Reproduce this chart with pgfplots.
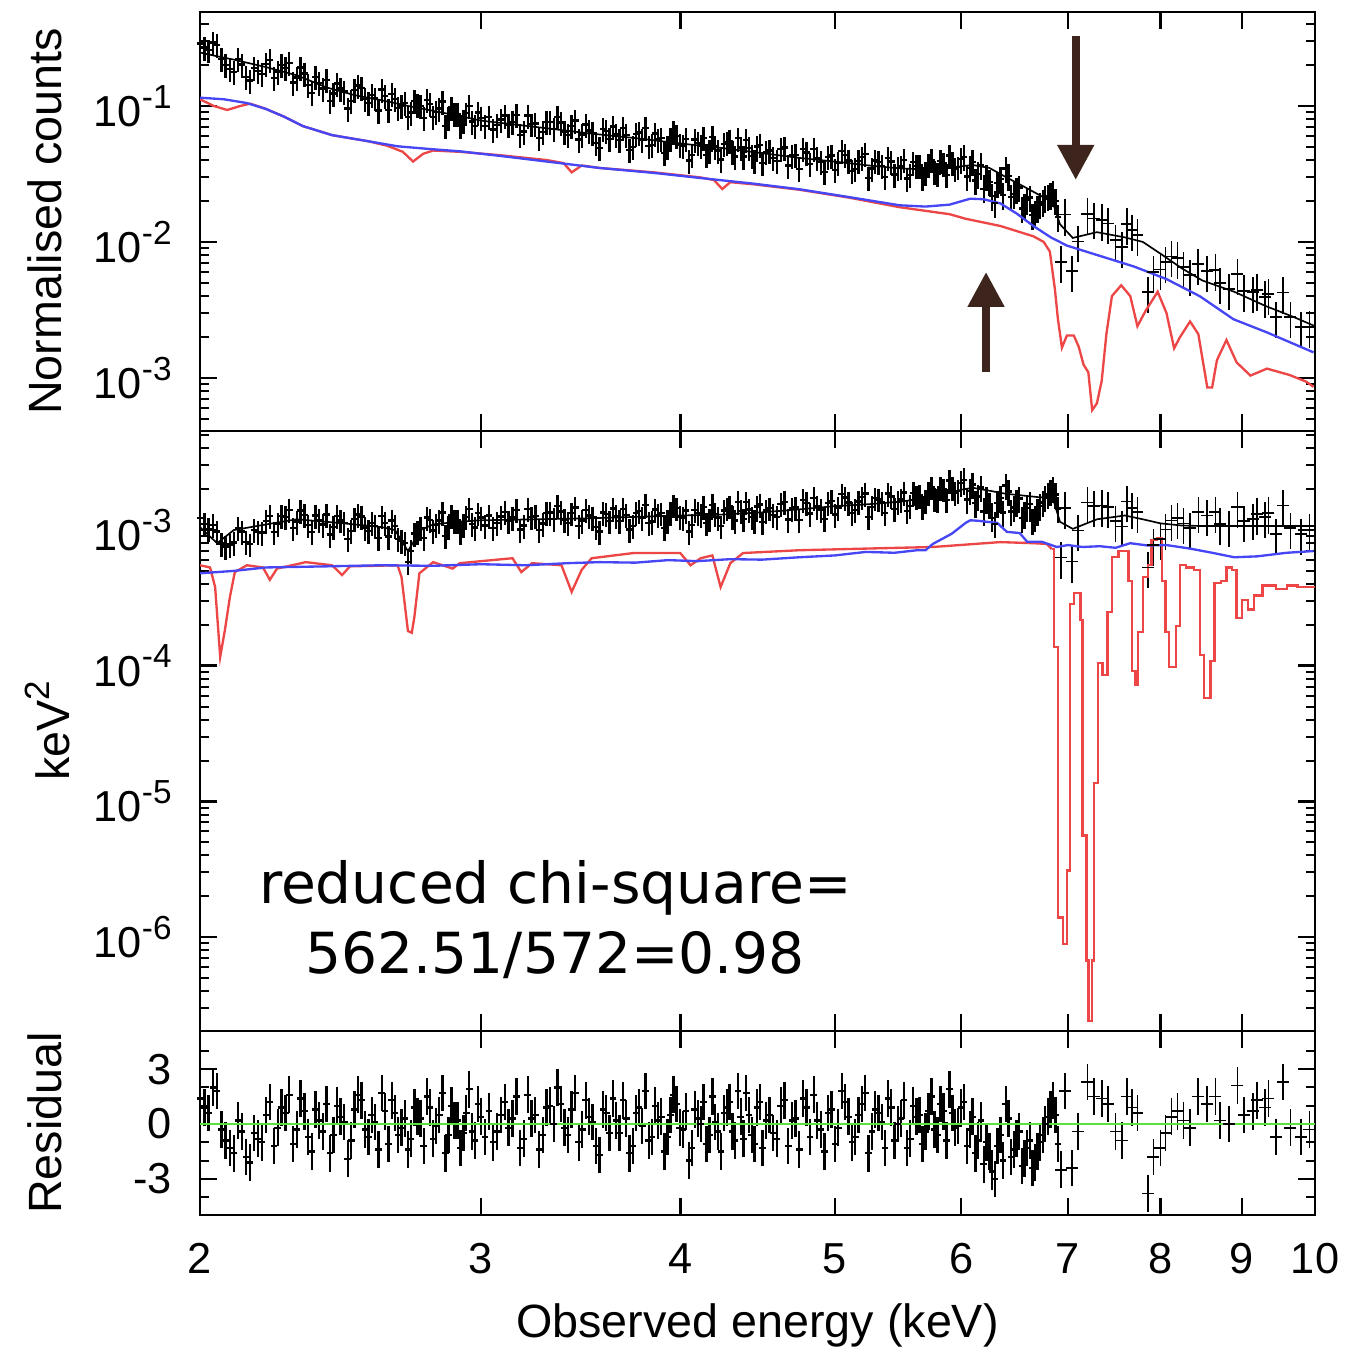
\documentclass[border=0pt]{standalone}
\usepackage{fontspec}
\setmainfont{Liberation Sans}
\newfontfamily\annofont{DejaVu Sans}
\usepackage{pgfplots}
\pgfplotsset{compat=1.18}
\usepackage{pgfplotstable}
\usetikzlibrary{arrows.meta}
\definecolor{mred}{RGB}{236,70,70}
\definecolor{mblue}{RGB}{70,70,245}
\definecolor{mgreen}{RGB}{90,225,60}
\definecolor{abrown}{RGB}{61,36,28}
\newcommand{\sps}[1]{\raisebox{5.5pt}{\fontsize{10}{12}\selectfont #1}}

% dense data: E, normalised counts, unfolded (keV^2), relative error, residual
\pgfplotstableread{
E c u s r
2.000 0.2885 1.226e-3 0.20 1.4
2.025 0.2567 1.018e-3 0.20 0.6
2.050 0.2821 0.973e-3 0.20 1.8
2.075 0.2011 0.758e-3 0.20 -0.9
2.100 0.1770 0.808e-3 0.20 -1.6
2.125 0.2023 0.976e-3 0.20 -0.4
2.150 0.1541 0.785e-3 0.20 -2.1
2.175 0.1803 0.972e-3 0.20 -0.8
2.200 0.2046 1.166e-3 0.20 0.5
2.225 0.1599 0.963e-3 0.20 -1.2
2.250 0.2000 1.274e-3 0.20 0.9
2.275 0.2077 1.401e-3 0.20 1.6
2.300 0.1620 1.157e-3 0.20 -0.3
2.325 0.1737 1.290e-3 0.20 0.7
2.350 0.1251 0.964e-3 0.20 -1.5
2.375 0.1482 1.188e-3 0.20 0.2
2.400 0.1551 1.302e-3 0.20 1.1
2.425 0.1232 1.058e-3 0.20 -0.6
2.450 0.1347 1.179e-3 0.20 0.4
2.475 0.0959 0.857e-3 0.20 -1.9
2.500 0.1315 1.206e-3 0.20 0.8
2.525 0.1358 1.260e-3 0.20 1.3
2.550 0.1053 0.985e-3 0.20 -0.7
2.575 0.1139 1.073e-3 0.20 0.1
2.600 0.1324 1.264e-3 0.20 1.7
2.625 0.0933 0.894e-3 0.20 -1.1
2.650 0.1126 1.072e-3 0.20 0.6
2.675 0.1000 0.830e-3 0.20 -0.2
2.700 0.0832 0.582e-3 0.20 -1.4
2.725 0.1086 0.942e-3 0.20 0.9
2.750 0.0995 1.036e-3 0.20 0.3
2.775 0.1109 1.239e-3 0.20 1.5
2.800 0.0832 0.994e-3 0.20 -0.8
2.825 0.0957 1.177e-3 0.20 0.5
2.850 0.0715 0.909e-3 0.20 -1.6
2.875 0.0972 1.277e-3 0.20 1.0
2.900 0.0870 1.178e-3 0.20 0.2
2.925 0.0783 1.090e-3 0.20 -0.5
2.950 0.1001 1.431e-3 0.20 1.9
2.975 0.0712 1.044e-3 0.20 -0.9
3.000 0.0817 1.237e-3 0.20 0.4
3.035 0.0834 1.279e-3 0.20 0.7
3.070 0.0722 1.129e-3 0.20 -0.4
3.105 0.0853 1.359e-3 0.20 1.2
3.140 0.0761 1.234e-3 0.20 0.3
3.175 0.0611 1.008e-3 0.20 -1.3
3.210 0.0850 1.427e-3 0.20 1.6
3.245 0.0744 1.272e-3 0.20 0.5
3.280 0.0642 1.115e-3 0.20 -0.6
3.315 0.0764 1.350e-3 0.20 1.0
3.350 0.0833 1.498e-3 0.20 2.0
3.385 0.0646 1.182e-3 0.20 -0.2
3.420 0.0715 1.330e-3 0.20 0.8
3.455 0.0566 1.070e-3 0.20 -1.0
3.490 0.0732 1.409e-3 0.20 1.3
3.525 0.0633 1.238e-3 0.20 0.1
3.560 0.0492 0.977e-3 0.20 -1.7
3.595 0.0655 1.320e-3 0.20 0.6
3.630 0.0705 1.444e-3 0.20 1.4
3.665 0.0561 1.166e-3 0.20 -0.5
3.700 0.0611 1.289e-3 0.20 0.3
3.735 0.0499 1.068e-3 0.20 -1.2
3.770 0.0638 1.387e-3 0.20 0.9
3.805 0.0692 1.528e-3 0.20 1.8
3.840 0.0515 1.155e-3 0.20 -0.7
3.875 0.0568 1.295e-3 0.20 0.2
3.910 0.0449 1.041e-3 0.20 -1.5
3.945 0.0573 1.350e-3 0.20 0.5
3.980 0.0604 1.446e-3 0.20 1.1
4.015 0.0509 1.235e-3 0.20 -0.3
4.050 0.0397 0.976e-3 0.20 -2.0
4.085 0.0566 1.410e-3 0.20 0.8
4.120 0.0511 1.290e-3 0.20 0.0
4.155 0.0438 1.122e-3 0.20 -1.1
4.190 0.0590 1.528e-3 0.20 1.5
4.225 0.0470 1.236e-3 0.20 -0.4
4.260 0.0523 1.396e-3 0.20 0.6
4.295 0.0553 1.497e-3 0.20 1.2
4.330 0.0425 1.174e-3 0.20 -0.9
4.365 0.0495 1.386e-3 0.20 0.4
4.400 0.0561 1.601e-3 0.20 1.7
4.435 0.0427 1.241e-3 0.20 -0.6
4.470 0.0504 1.489e-3 0.20 0.9
4.505 0.0379 1.140e-3 0.20 -1.3
4.55 0.0470 1.446e-3 0.20 0.5
4.60 0.0394 1.246e-3 0.20 -0.8
4.65 0.0496 1.609e-3 0.20 1.3
4.70 0.0432 1.440e-3 0.20 0.2
4.75 0.0345 1.181e-3 0.20 -1.4
4.80 0.0454 1.591e-3 0.20 0.9
4.85 0.0483 1.731e-3 0.20 1.6
4.90 0.0386 1.415e-3 0.20 -0.3
4.95 0.0423 1.591e-3 0.20 0.6
5.00 0.0339 1.302e-3 0.20 -1.1
5.05 0.0468 1.836e-3 0.20 1.8
5.10 0.0398 1.593e-3 0.20 0.4
5.15 0.0344 1.401e-3 0.20 -0.7
5.20 0.0419 1.743e-3 0.20 1.1
5.25 0.0295 1.252e-3 0.20 -1.6
5.30 0.0396 1.714e-3 0.20 0.8
5.35 0.0362 1.597e-3 0.20 0.1
5.40 0.0413 1.859e-3 0.20 1.4
5.45 0.0313 1.433e-3 0.20 -0.9
5.50 0.0359 1.678e-3 0.20 0.3
5.55 0.0292 1.389e-3 0.20 -1.3
5.60 0.0385 1.873e-3 0.20 1.0
5.65 0.0364 1.800e-3 0.20 0.5
5.70 0.0325 1.641e-3 0.20 -0.4
5.75 0.0401 2.065e-3 0.20 1.5
5.80 0.0319 1.667e-3 0.20 -0.6
5.85 0.0377 1.997e-3 0.20 0.7
5.90 0.0432 2.318e-3 0.20 1.9
5.95 0.0347 1.888e-3 0.20 -0.2
6.00 0.0405 2.229e-3 0.22 0.9
6.05 0.0303 1.676e-3 0.22 -1.2
6.10 0.0389 2.165e-3 0.22 0.4
6.15 0.0316 1.763e-3 0.22 -0.9
6.20 0.0246 1.372e-3 0.22 -2.2
6.25 0.0277 1.541e-3 0.22 -1.5
6.30 0.0193 1.112e-3 0.22 -3.0
6.35 0.0290 1.725e-3 0.22 -0.6
6.40 0.0346 2.135e-3 0.22 1.1
6.45 0.0215 1.371e-3 0.22 -1.8
6.50 0.0242 1.613e-3 0.22 -0.8
6.55 0.0176 1.220e-3 0.22 -2.3
6.60 0.0203 1.459e-3 0.22 -1.3
6.65 0.0157 1.173e-3 0.22 -2.4
6.70 0.0178 1.383e-3 0.22 -1.5
6.75 0.0197 1.594e-3 0.22 -0.6
6.80 0.0216 1.827e-3 0.22 0.4
6.85 0.0230 2.033e-3 0.22 1.3
6.90 0.0152 1.438e-3 0.22 -1.1
}\dataA

% interleaved dense bins
\pgfplotstableread{
E c u s r
2.0125 0.2696 1.108e-3 0.20 0.9
2.0375 0.2924 1.085e-3 0.20 2.0
2.0625 0.2205 0.795e-3 0.20 -0.3
2.0875 0.1876 0.781e-3 0.20 -1.3
2.1125 0.2210 1.037e-3 0.20 0.2
2.1375 0.1641 0.814e-3 0.20 -1.8
2.1625 0.1906 0.999e-3 0.20 -0.5
2.1875 0.1727 0.957e-3 0.20 -1.0
2.2125 0.2172 1.273e-3 0.20 1.2
2.2375 0.1793 1.111e-3 0.20 -0.2
2.2625 0.1902 1.247e-3 0.20 0.6
2.2875 0.1486 1.031e-3 0.20 -1.1
2.3125 0.1918 1.396e-3 0.20 1.4
2.3375 0.1433 1.084e-3 0.20 -0.7
2.3625 0.1630 1.280e-3 0.20 0.8
2.3875 0.1341 1.100e-3 0.20 -0.4
2.4125 0.1090 0.925e-3 0.20 -1.6
2.4375 0.1464 1.269e-3 0.20 1.0
2.4625 0.1279 1.131e-3 0.20 0.1
2.4875 0.1090 0.986e-3 0.20 -0.9
2.5125 0.1416 1.305e-3 0.20 1.6
2.5375 0.1121 1.044e-3 0.20 -0.3
2.5625 0.1206 1.132e-3 0.20 0.5
2.5875 0.0926 0.878e-3 0.20 -1.4
2.6125 0.1179 1.127e-3 0.20 0.7
2.6375 0.1229 1.173e-3 0.20 1.3
2.6625 0.0963 0.858e-3 0.20 -0.6
2.6875 0.1049 0.803e-3 0.20 0.3
2.7125 0.0895 0.701e-3 0.20 -0.8
2.7375 0.1017 0.969e-3 0.20 0.4
2.7625 0.0813 0.877e-3 0.20 -1.2
2.7875 0.1030 1.191e-3 0.20 0.9
2.8125 0.0901 1.092e-3 0.20 -0.1
2.8375 0.1076 1.346e-3 0.20 1.7
2.8625 0.0814 1.051e-3 0.20 -0.6
2.8875 0.0880 1.172e-3 0.20 0.2
2.9125 0.0711 0.975e-3 0.20 -1.3
2.9375 0.0883 1.247e-3 0.20 0.6
2.9625 0.0768 1.112e-3 0.20 -0.4
2.9875 0.0893 1.330e-3 0.20 1.1
3.0175 0.0710 1.081e-3 0.20 -0.7
3.0525 0.0672 1.041e-3 0.20 -1.0
3.0875 0.0797 1.258e-3 0.20 0.5
3.1225 0.0723 1.161e-3 0.20 -0.2
3.1575 0.0861 1.408e-3 0.20 1.5
3.1925 0.0650 1.081e-3 0.20 -0.8
3.2275 0.0733 1.242e-3 0.20 0.3
3.2625 0.0580 0.999e-3 0.20 -1.4
3.2975 0.0761 1.334e-3 0.20 0.9
3.3325 0.0677 1.207e-3 0.20 0.0
3.3675 0.0755 1.370e-3 0.20 1.1
3.4025 0.0610 1.126e-3 0.20 -0.6
3.4375 0.0780 1.463e-3 0.20 1.7
3.4725 0.0615 1.174e-3 0.20 -0.3
3.5075 0.0659 1.280e-3 0.20 0.4
3.5425 0.0532 1.049e-3 0.20 -1.2
3.5775 0.0674 1.347e-3 0.20 0.8
3.6125 0.0571 1.160e-3 0.20 -0.5
3.6475 0.0615 1.268e-3 0.20 0.2
3.6825 0.0687 1.436e-3 0.20 1.3
3.7175 0.0474 1.007e-3 0.20 -1.6
3.7525 0.0622 1.340e-3 0.20 0.6
3.7875 0.0566 1.240e-3 0.20 -0.1
3.8225 0.0505 1.123e-3 0.20 -0.9
3.8575 0.0626 1.415e-3 0.20 1.0
3.8925 0.0578 1.328e-3 0.20 0.4
3.9275 0.0499 1.164e-3 0.20 -0.7
3.9625 0.0641 1.521e-3 0.20 1.6
3.9975 0.0518 1.249e-3 0.20 -0.2
4.0325 0.0569 1.391e-3 0.20 0.7
4.0675 0.0438 1.085e-3 0.20 -1.3
4.1025 0.0532 1.335e-3 0.20 0.3
4.1375 0.0581 1.477e-3 0.20 1.2
4.1725 0.0467 1.201e-3 0.20 -0.6
4.2075 0.0503 1.313e-3 0.20 0.1
4.2425 0.0403 1.066e-3 0.20 -1.5
4.2775 0.0538 1.447e-3 0.20 0.9
4.3125 0.0457 1.250e-3 0.20 -0.4
4.3475 0.0578 1.605e-3 0.20 1.8
4.3825 0.0424 1.200e-3 0.20 -0.8
4.4175 0.0491 1.414e-3 0.20 0.5
4.4525 0.0398 1.164e-3 0.20 -1.1
4.4875 0.0517 1.542e-3 0.20 1.2
4.5275 0.0457 1.390e-3 0.20 0.2
4.575 0.0414 1.289e-3 0.20 -0.5
4.625 0.0485 1.551e-3 0.20 1.0
4.675 0.0365 1.198e-3 0.20 -1.2
4.725 0.0434 1.464e-3 0.20 0.3
4.775 0.0482 1.668e-3 0.20 1.4
4.825 0.0374 1.323e-3 0.20 -0.7
4.875 0.0413 1.495e-3 0.20 0.2
4.925 0.0326 1.210e-3 0.20 -1.5
4.975 0.0431 1.635e-3 0.20 0.8
5.025 0.0379 1.469e-3 0.20 -0.2
5.075 0.0438 1.733e-3 0.20 1.2
5.125 0.0333 1.342e-3 0.20 -1.0
5.175 0.0395 1.627e-3 0.20 0.5
5.225 0.0443 1.860e-3 0.20 1.7
5.275 0.0346 1.482e-3 0.20 -0.4
5.325 0.0386 1.684e-3 0.20 0.6
5.375 0.0300 1.338e-3 0.20 -1.3
5.425 0.0391 1.772e-3 0.20 0.9
5.475 0.0349 1.613e-3 0.20 0.0
5.525 0.0401 1.888e-3 0.20 1.3
5.575 0.0312 1.500e-3 0.20 -0.8
5.625 0.0361 1.766e-3 0.20 0.4
5.675 0.0297 1.485e-3 0.20 -1.1
5.725 0.0370 1.883e-3 0.20 0.7
5.775 0.0330 1.709e-3 0.20 -0.3
5.825 0.0392 2.059e-3 0.20 1.1
5.875 0.0312 1.664e-3 0.20 -0.9
5.925 0.0379 2.049e-3 0.20 0.6
5.975 0.0354 1.934e-3 0.20 -0.1
6.025 0.0423 2.334e-3 0.22 1.2
6.075 0.0351 1.948e-3 0.22 -0.3
6.125 0.0283 1.578e-3 0.22 -1.6
6.175 0.0369 2.056e-3 0.22 0.2
6.225 0.0304 1.692e-3 0.22 -1.0
6.275 0.0218 1.230e-3 0.22 -2.6
6.325 0.0270 1.581e-3 0.22 -1.2
6.375 0.0222 1.344e-3 0.22 -2.0
6.425 0.0306 1.919e-3 0.22 0.3
6.475 0.0225 1.467e-3 0.22 -1.4
6.525 0.0252 1.708e-3 0.22 -0.4
6.575 0.0186 1.315e-3 0.22 -1.9
6.625 0.0212 1.551e-3 0.22 -0.9
6.675 0.0163 1.242e-3 0.22 -2.1
6.725 0.0189 1.501e-3 0.22 -1.0
6.775 0.0210 1.735e-3 0.22 0.0
6.825 0.0222 1.918e-3 0.22 0.8
6.875 0.0201 1.830e-3 0.22 0.5
}\dataC

% sparse high-energy data
\pgfplotstableread{
E c u s r
6.93 0.00715 0.627e-3 0.30 -2.5
6.97 0.0159 1.456e-3 0.30 1.8
7.04 0.00608 0.585e-3 0.30 -2.4
7.10 0.0101 0.993e-3 0.30 -0.4
7.20 0.0161 1.598e-3 0.30 2.3
7.27 0.0149 1.499e-3 0.30 1.5
7.35 0.0145 1.515e-3 0.30 1.4
7.42 0.0137 1.474e-3 0.30 1.1
7.50 0.0103 1.160e-3 0.30 -0.4
7.57 0.00913 1.064e-3 0.30 -0.9
7.62 0.0136 1.626e-3 0.30 1.5
7.68 0.0122 1.453e-3 0.30 0.9
7.74 0.0113 1.352e-3 0.30 0.6
7.86 0.00428 0.531e-3 0.30 -3.8
7.92 0.00602 0.777e-3 0.30 -1.8
8.00 0.00628 0.858e-3 0.30 -1.3
8.06 0.00710 1.010e-3 0.30 -0.5
8.13 0.00783 1.179e-3 0.30 0.4
8.20 0.00766 1.227e-3 0.30 0.7
8.27 0.00653 1.119e-3 0.30 0.2
8.35 0.00569 1.031e-3 0.30 -0.2
8.45 0.00686 1.359e-3 0.30 1.5
8.56 0.00611 1.282e-3 0.30 1.1
8.66 0.00622 1.359e-3 0.30 1.5
8.72 0.00497 1.109e-3 0.30 0.2
8.83 0.00450 1.070e-3 0.30 0.0
8.94 0.00579 1.474e-3 0.30 2.1
9.03 0.00436 1.166e-3 0.30 0.5
9.14 0.00428 1.205e-3 0.30 0.7
9.20 0.00444 1.320e-3 0.30 1.3
9.30 0.00395 1.243e-3 0.30 0.9
9.35 0.00413 1.340e-3 0.30 1.4
9.45 0.00280 0.935e-3 0.30 -0.7
9.55 0.00424 1.513e-3 0.30 2.3
9.65 0.00280 1.031e-3 0.30 -0.2
9.80 0.00236 0.935e-3 0.30 -0.7
9.92 0.00237 1.012e-3 0.30 -0.3
}\dataB

% black best-fit model
\pgfplotstableread{
E cm um
2.00 0.247 1.05e-3
2.05 0.232 0.80e-3
2.10 0.219 1.00e-3
2.20 0.193 1.10e-3
2.30 0.168 1.20e-3
2.40 0.137 1.15e-3
2.50 0.120 1.10e-3
2.60 0.110 1.05e-3
2.65 0.105 1.00e-3
2.70 0.100 0.70e-3
2.75 0.096 1.00e-3
2.80 0.092 1.10e-3
2.90 0.085 1.15e-3
3.00 0.078 1.18e-3
3.25 0.070 1.20e-3
3.50 0.063 1.22e-3
3.75 0.058 1.25e-3
4.00 0.053 1.28e-3
4.25 0.049 1.30e-3
4.50 0.045 1.35e-3
4.75 0.0415 1.42e-3
5.00 0.039 1.50e-3
5.25 0.0365 1.55e-3
5.50 0.0347 1.62e-3
5.75 0.0340 1.75e-3
6.00 0.0360 1.98e-3
6.10 0.0368 2.05e-3
6.25 0.0350 1.95e-3
6.40 0.0300 1.85e-3
6.55 0.0260 1.80e-3
6.70 0.0225 1.75e-3
6.85 0.0195 1.72e-3
6.92 0.0135 1.15e-3
7.05 0.0107 1.02e-3
7.30 0.0118 1.20e-3
7.60 0.0108 1.28e-3
7.80 0.0100 1.20e-3
8.00 0.0082 1.12e-3
8.25 0.0064 1.08e-3
8.50 0.0052 1.07e-3
8.90 0.0043 1.07e-3
9.30 0.0034 1.07e-3
9.70 0.0028 1.07e-3
10.0 0.0024 1.07e-3
}\modelK

\pgfplotsset{every axis/.append style={
    scale only axis, width=334.5pt,
    xmin=2, xmax=10,
    xtick={2,3,4,5,6,7,8,9,10},
    xminorticks=false,
    tick align=inside, tick pos=both,
    major tick length=5pt, minor tick length=2.6pt,
    major tick style={line width=0.8pt, black},
    minor tick style={line width=0.6pt, black},
    axis line style={line width=0.8pt},
    tick label style={font=\fontsize{13}{15}\selectfont},
    label style={font=\fontsize{14}{16}\selectfont},
    yticklabel style={xshift=-5pt},
}}

\begin{document}
\begin{tikzpicture}
\path[use as bounding box] (-60pt,3.6pt) rectangle (343.5pt,-402pt);

% ---------------- top panel ----------------
\begin{axis}[xmode=log, ymode=log, at={(0pt,0pt)}, anchor=north west, height=125.7pt,
  ymin=4.07e-4, ymax=0.491,
  ytick={1e-3,1e-2,1e-1},
  yticklabels={10\sps{-3},10\sps{-2},10\sps{-1}},
  minor ytick={5e-4,6e-4,7e-4,8e-4,9e-4,2e-3,3e-3,4e-3,5e-3,6e-3,7e-3,8e-3,9e-3,2e-2,3e-2,4e-2,5e-2,6e-2,7e-2,8e-2,9e-2,2e-1,3e-1,4e-1},
  xticklabels={,,,,,,,,},
  ylabel={Normalised counts},
  ylabel style={at={(axis description cs:-0.139,0.5)}, anchor=center},
]
\addplot[black, line width=0.7pt, only marks, mark=-, mark size=1.0pt,
  error bars/.cd, y dir=both, y explicit relative, error mark=none, error bar style={line width=0.7pt}]
  table[x=E, y=c, y error=s] {\dataA};
\addplot[black, line width=0.7pt, only marks, mark=-, mark size=1.0pt,
  error bars/.cd, y dir=both, y explicit relative, error mark=none, error bar style={line width=0.7pt}]
  table[x=E, y=c, y error=s] {\dataC};
\addplot[black, line width=0.5pt, only marks, mark=-, mark size=1.8pt,
  error bars/.cd, y dir=both, y explicit relative, error mark=none, error bar style={line width=0.5pt}]
  table[x=E, y=c, y error=s] {\dataB};
\addplot[black, line width=0.5pt] table[x=E, y=cm] {\modelK};
\addplot[mred, line width=0.7pt] coordinates {
(2.00,0.112)(2.04,0.100)(2.08,0.0934)(2.12,0.100)(2.15,0.104)(2.20,0.095)(2.26,0.083)
(2.32,0.0711)(2.42,0.061)(2.55,0.055)(2.62,0.051)(2.68,0.046)(2.72,0.039)(2.76,0.0445)
(2.80,0.047)(2.91,0.0460)(3.08,0.0435)(3.30,0.040)(3.38,0.038)(3.42,0.0325)(3.47,0.0365)
(3.56,0.0350)(3.85,0.0325)(4.12,0.0298)(4.20,0.0285)(4.25,0.0245)(4.30,0.0275)(4.45,0.0265)
(4.75,0.0242)(5.10,0.0212)(5.49,0.0180)(5.90,0.0160)(6.04,0.0148)(6.35,0.0131)(6.66,0.0110)
(6.76,0.0100)(6.82,0.0085)(6.87,0.0045)(6.90,0.0027)(6.94,0.00167)(6.99,0.00205)(7.06,0.00205)
(7.11,0.00170)(7.16,0.00125)(7.21,0.00110)(7.25,0.00058)(7.30,0.00065)(7.35,0.00095)(7.40,0.0021)
(7.46,0.0040)(7.56,0.0048)(7.66,0.0040)(7.74,0.0024)(7.83,0.0031)(7.97,0.0043)(8.07,0.0030)
(8.16,0.00165)(8.23,0.0020)(8.35,0.0026)(8.45,0.0021)(8.56,0.00085)(8.62,0.00085)(8.68,0.00135)
(8.80,0.0019)(8.93,0.0013)(9.11,0.00104)(9.33,0.00117)(9.64,0.00105)(9.87,0.00094)(9.98,0.00086)};
\addplot[mblue, line width=0.7pt] coordinates {
(2.00,0.115)(2.07,0.112)(2.14,0.105)(2.20,0.095)(2.26,0.083)(2.32,0.0711)(2.42,0.061)
(2.55,0.055)(2.66,0.0505)(2.80,0.048)(2.91,0.0464)(3.08,0.0430)(3.30,0.0390)(3.56,0.0350)
(3.85,0.0322)(4.12,0.0295)(4.45,0.0268)(4.75,0.0244)(5.10,0.0214)(5.49,0.0186)(5.70,0.0182)
(5.90,0.0188)(6.08,0.0208)(6.20,0.0206)(6.35,0.0192)(6.50,0.0162)(6.66,0.0131)(6.83,0.0108)
(6.99,0.0094)(7.33,0.0079)(7.70,0.0066)(8.07,0.00533)(8.47,0.00398)(8.89,0.00270)
(9.33,0.00216)(9.98,0.00154)};
\draw[abrown, line width=2.4pt, -{Triangle[width=10.5pt,length=10.5pt]}]
  (axis cs:7.08,0.327) -- (axis cs:7.08,0.0286);
\draw[abrown, line width=2.4pt, -{Triangle[width=10.5pt,length=10.5pt]}]
  (axis cs:6.22,0.00111) -- (axis cs:6.22,0.00601);
\end{axis}

% ---------------- middle panel ----------------
\begin{axis}[xmode=log, ymode=log, at={(0pt,-125.7pt)}, anchor=north west, height=180pt,
  ymin=2.03e-7, ymax=5.37e-3,
  ytick={1e-6,1e-5,1e-4,1e-3},
  yticklabels={10\sps{-6},10\sps{-5},10\sps{-4},10\sps{-3}},
  minor ytick={3e-7,4e-7,5e-7,6e-7,7e-7,8e-7,9e-7,2e-6,3e-6,4e-6,5e-6,6e-6,7e-6,8e-6,9e-6,2e-5,3e-5,4e-5,5e-5,6e-5,7e-5,8e-5,9e-5,2e-4,3e-4,4e-4,5e-4,6e-4,7e-4,8e-4,9e-4,2e-3,3e-3,4e-3,5e-3},
  xticklabels={,,,,,,,,},
  ylabel={keV\raisebox{6pt}{\fontsize{10.5}{12}\selectfont 2}},
  ylabel style={at={(axis description cs:-0.137,0.5)}, anchor=center},
]
\addplot[black, line width=0.7pt, only marks, mark=-, mark size=1.0pt,
  error bars/.cd, y dir=both, y explicit relative, error mark=none, error bar style={line width=0.7pt}]
  table[x=E, y=u, y error=s] {\dataA};
\addplot[black, line width=0.7pt, only marks, mark=-, mark size=1.0pt,
  error bars/.cd, y dir=both, y explicit relative, error mark=none, error bar style={line width=0.7pt}]
  table[x=E, y=u, y error=s] {\dataC};
\addplot[black, line width=0.5pt, only marks, mark=-, mark size=1.8pt,
  error bars/.cd, y dir=both, y explicit relative, error mark=none, error bar style={line width=0.5pt}]
  table[x=E, y=u, y error=s] {\dataB};
\addplot[black, line width=0.5pt] table[x=E, y=um] {\modelK};
\addplot[mred, line width=0.7pt] coordinates {
(2.000,5.5e-4)(2.029,5.3e-4)(2.044,3.8e-4)(2.059,1.16e-4)(2.073,1.83e-4)(2.088,3.2e-4)
(2.103,4.9e-4)(2.14,5.5e-4)(2.19,5.3e-4)(2.212,4.3e-4)(2.235,5.2e-4)(2.33,5.8e-4)(2.42,5.5e-4)
(2.455,4.66e-4)(2.483,5.4e-4)(2.66,5.5e-4)(2.675,4.5e-4)(2.70,1.8e-4)(2.715,1.75e-4)
(2.725,2.28e-4)(2.745,4.8e-4)(2.80,5.8e-4)(2.88,5.2e-4)(2.91,5.7e-4)(3.14,6.2e-4)(3.18,4.9e-4)
(3.23,5.7e-4)(3.37,5.5e-4)(3.42,3.5e-4)(3.47,5.1e-4)(3.52,6.2e-4)(3.74,6.77e-4)(4.00,6.77e-4)
(4.06,5.5e-4)(4.12,6.2e-4)(4.19,6.5e-4)(4.24,3.8e-4)(4.30,5.7e-4)(4.38,6.77e-4)(4.75,7.1e-4)
(5.23,7.3e-4)(5.76,7.5e-4)(6.35,8.15e-4)(6.66,8.0e-4)(6.79,7.9e-4)(6.84,7.25e-4)};
\addplot[mred, line width=0.7pt, const plot] coordinates {
(6.84,7.25e-4)(6.86,1.37e-4)(6.90,1.39e-6)(6.95,8.9e-7)(6.99,3.1e-6)(7.02,2.85e-4)(7.06,3.44e-4)
(7.13,2.17e-4)(7.15,5.6e-6)(7.19,6.7e-7)(7.21,2.4e-7)(7.25,6.7e-7)(7.27,1.37e-5)(7.31,1.05e-4)
(7.36,8.5e-5)(7.41,2.48e-4)(7.46,6.3e-4)(7.53,7.0e-4)(7.64,4.2e-4)(7.68,9.1e-5)(7.72,7.2e-5)
(7.75,1.77e-4)(7.80,4.5e-4)(7.86,5.5e-4)(7.90,8.4e-4)(7.96,8.7e-4)(8.02,4.2e-4)(8.06,1.77e-4)
(8.10,9.8e-5)(8.18,1.96e-4)(8.23,5.5e-4)(8.30,5.3e-4)(8.40,5.1e-4)(8.47,1.2e-4)(8.52,5.8e-5)
(8.60,1.08e-4)(8.65,4.07e-4)(8.73,4.2e-4)(8.80,5.3e-4)(8.87,5.1e-4)(8.93,2.25e-4)(9.00,3.05e-4)
(9.08,2.6e-4)(9.16,3.3e-4)(9.27,3.9e-4)(9.45,3.67e-4)(9.60,3.9e-4)(9.75,3.8e-4)(10.0,3.8e-4)};
\addplot[mblue, line width=0.7pt] coordinates {
(2.00,4.8e-4)(2.10,5.0e-4)(2.20,5.3e-4)(2.40,5.4e-4)(2.60,5.5e-4)(2.80,5.45e-4)(3.00,5.6e-4)
(3.20,5.5e-4)(3.40,5.7e-4)(3.56,5.8e-4)(3.75,5.75e-4)(3.93,6.0e-4)(4.10,5.9e-4)(4.30,6.1e-4)
(4.50,6.05e-4)(4.75,6.3e-4)(5.00,6.5e-4)(5.23,6.9e-4)(5.45,6.8e-4)(5.63,7.1e-4)(5.70,7.1e-4)
(5.76,7.9e-4)(5.92,9.4e-4)(6.04,1.13e-3)(6.08,1.18e-3)(6.15,1.17e-3)(6.23,1.15e-3)(6.32,1.13e-3)
(6.41,9.7e-4)(6.53,9.5e-4)(6.60,8.2e-4)(6.74,8.2e-4)(6.89,7.5e-4)(7.00,7.75e-4)(7.15,7.5e-4)
(7.33,7.6e-4)(7.50,7.4e-4)(7.66,8.0e-4)(7.85,7.7e-4)(8.07,7.75e-4)(8.35,7.3e-4)(8.62,6.8e-4)
(8.90,6.3e-4)(9.20,6.4e-4)(9.60,6.8e-4)(9.98,7.0e-4)};
\node[font=\annofont\fontsize{17}{21}\selectfont, align=center] at (axis cs:3.34,1.34e-6)
  {reduced chi-square=\\562.51/572=0.98};
\end{axis}

% ---------------- residual panel ----------------
\begin{axis}[xmode=log, at={(0pt,-305.7pt)}, anchor=north west, height=55.2pt,
  ymin=-4.97, ymax=5.08,
  ytick={-3,0,3}, yticklabels={-3,0,3},
  minor ytick={-4,-2,-1,1,2,4},
  xticklabels={2,3,4,5,6,7,8,9,10},
  xticklabel style={yshift=-5pt},
  ylabel={Residual},
  ylabel style={at={(axis description cs:-0.139,0.5)}, anchor=center},
  xlabel={Observed energy (keV)},
  xlabel style={at={(axis description cs:0.5,-0.598)}, anchor=center},
]
\addplot[black, line width=0.7pt, only marks, mark=-, mark size=1.0pt,
  error bars/.cd, y dir=both, y fixed=1, error mark=none, error bar style={line width=0.7pt}]
  table[x=E, y=r] {\dataA};
\addplot[black, line width=0.7pt, only marks, mark=-, mark size=1.0pt,
  error bars/.cd, y dir=both, y fixed=1, error mark=none, error bar style={line width=0.7pt}]
  table[x=E, y=r] {\dataC};
\addplot[black, line width=0.5pt, only marks, mark=-, mark size=1.8pt,
  error bars/.cd, y dir=both, y fixed=1, error mark=none, error bar style={line width=0.5pt}]
  table[x=E, y=r] {\dataB};
\addplot[mgreen, line width=0.6pt] coordinates {(2,0)(10,0)};
\end{axis}
\end{tikzpicture}
\end{document}
